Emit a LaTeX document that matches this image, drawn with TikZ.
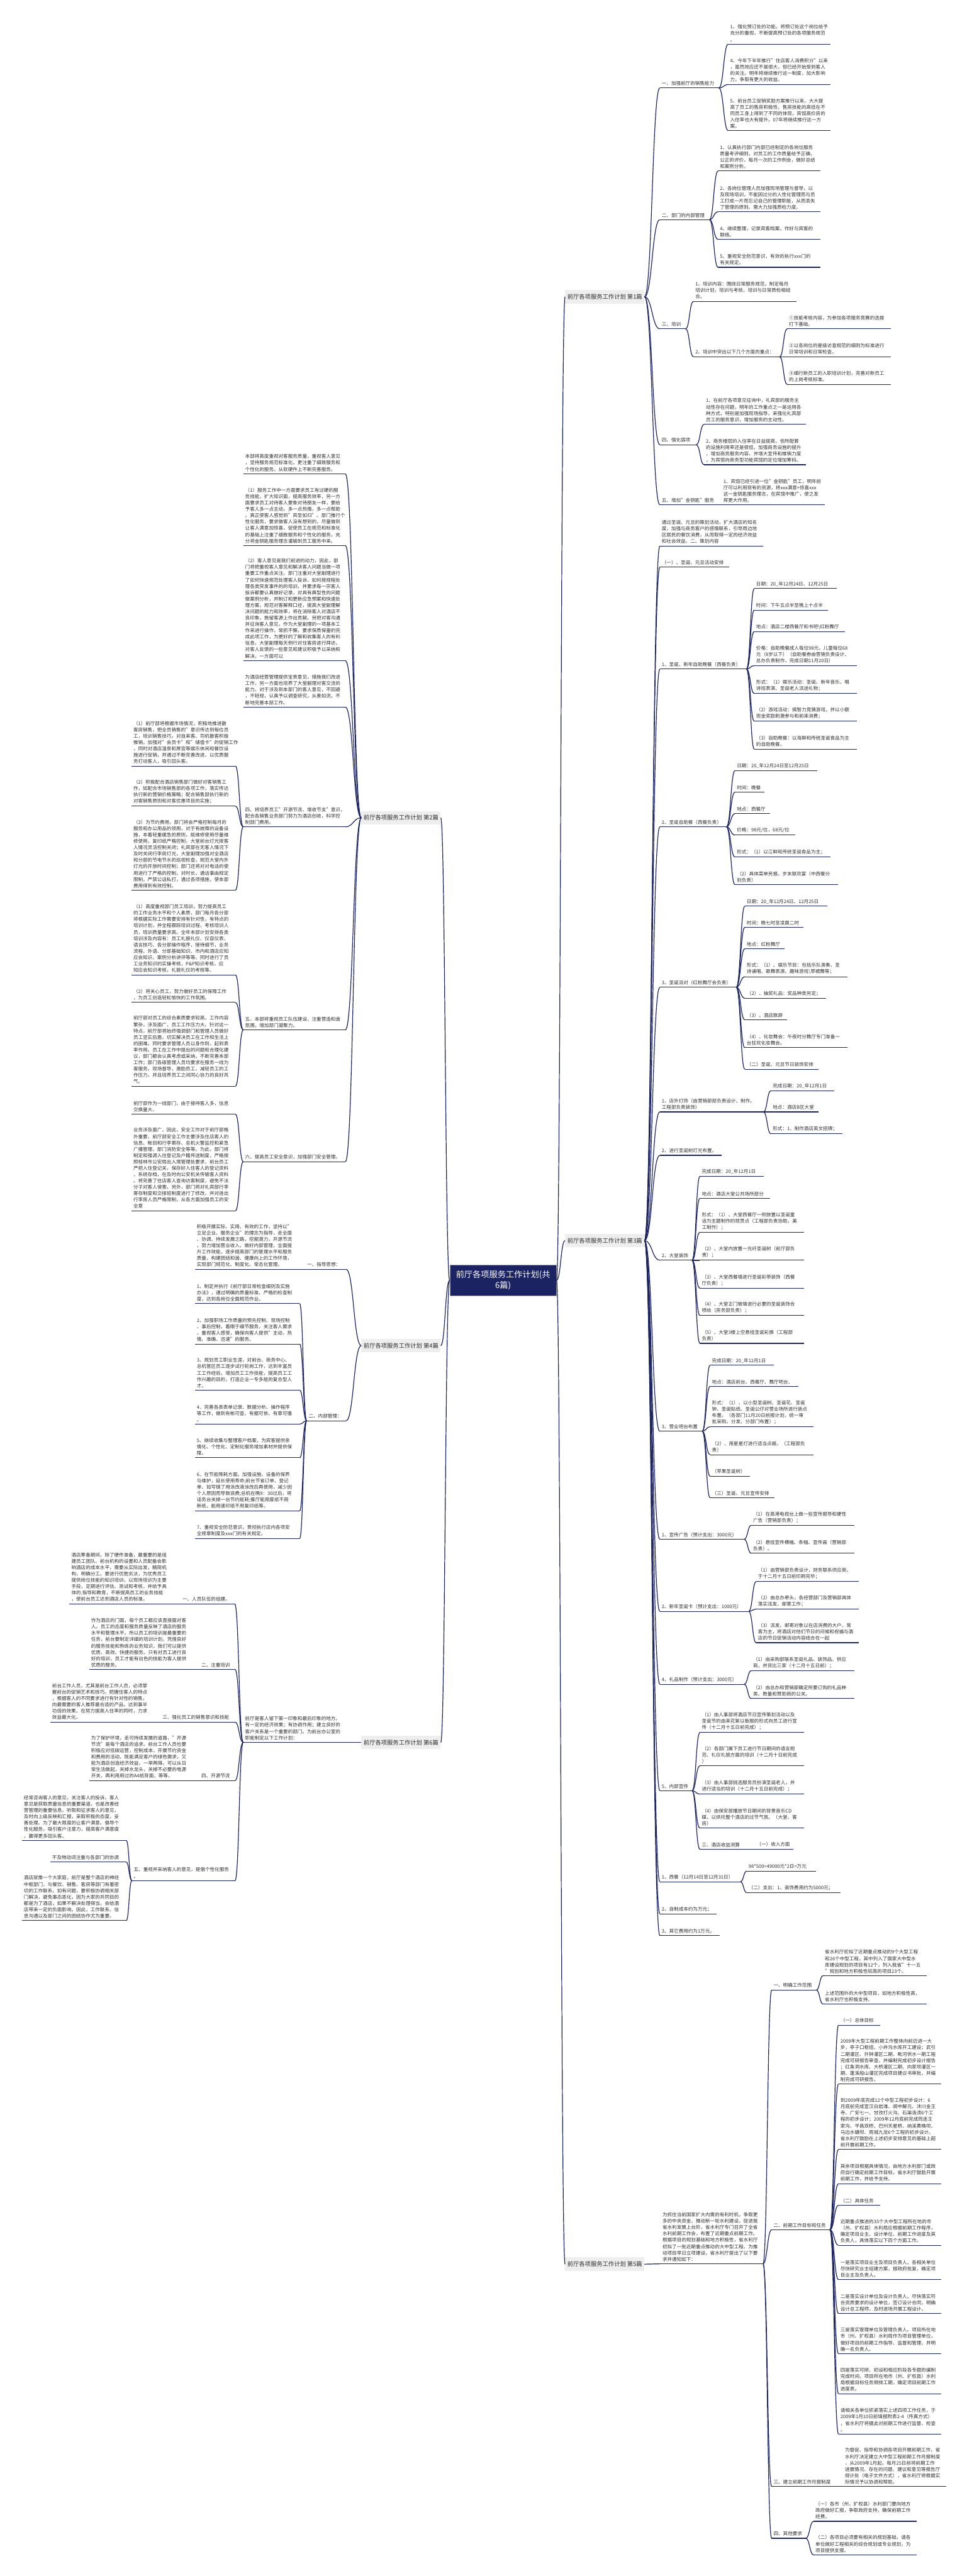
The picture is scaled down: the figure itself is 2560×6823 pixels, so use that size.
\documentclass[tikz,border=0pt]{standalone}
\usepackage{fontspec}
\setmainfont{Noto Sans CJK SC}
\usetikzlibrary{calc}
\definecolor{navy}{RGB}{30,38,98}
\definecolor{cenfill}{RGB}{27,35,99}
\definecolor{labfill}{RGB}{238,238,238}
\definecolor{txt}{RGB}{45,45,45}
\newcommand\lfs{\fontsize{12.6}{16.8}\selectfont\exhyphenpenalty=10000\hyphenpenalty=10000}
\tikzset{
 leaf/.style={anchor=south west, inner xsep=5pt, inner ysep=6pt, align=left, font=\lfs, text=txt},
 ul/.style={draw=navy, line width=1.8pt},
 cn/.style={draw=navy, line width=2pt},
 plab/.style={fill=labfill, text=txt, font=\fontsize{15.5}{18}\selectfont, inner xsep=6pt, minimum height=36pt},
 cen/.style={fill=cenfill, draw=gray!70, line width=1pt, text=white, font=\fontsize{22}{28}\selectfont, text width=256pt, align=center, inner xsep=13pt, minimum height=81pt},
}
\newcommand\mlf[5]{\pgfmathsetmacro\mytw{#3-#2-10}\node[leaf,text width=\mytw pt] (#1) at (#2,#4) {#5};\draw[ul] (#1.south west) -- (#1.south east);}
\newcommand\cnx[2]{\draw[cn] let \p1=(#1), \p2=(#2) in (\p1) .. controls ({(\x1+\x2)/2},\y1) and ({(\x1+\x2)/2},\y2) .. (\p2);}
\begin{document}
\begin{tikzpicture}[x=1pt,y=-1pt]
\fill[white] (0,0) rectangle (2560,6823);
\useasboundingbox (0,0) rectangle (2560,6823);

% ---------- root and part labels ----------
\node[cen] (root) at (1332,3391) {前厅各项服务工作计划(共\\6篇)};
\node[plab,anchor=west] (P1) at (1496,786) {前厅各项服务工作计划 第1篇};
\node[plab,anchor=west] (P3) at (1496,3286) {前厅各项服务工作计划 第3篇};
\node[plab,anchor=west] (P5) at (1496,5997) {前厅各项服务工作计划 第5篇};
\node[plab,anchor=east] (P2) at (1167,2166) {前厅各项服务工作计划 第2篇};
\node[plab,anchor=east] (P4) at (1167,3564) {前厅各项服务工作计划 第4篇};
\node[plab,anchor=east] (P6) at (1167,4615) {前厅各项服务工作计划 第6篇};

% ---------- Part 1 ----------
\mlf{A1}{1747}{1903}{233}{一、加强前厅的销售能力}
\mlf{A1a}{1928}{2198}{117}{1、强化预订处的功能。将预订处这个岗位给予\\充分的重视，不断提高预订处的各项服务规范\\。}
\mlf{A1b}{1928}{2198}{224}{4、今年下半年推行"住店客人消费积分"以来\\，虽然效应还不是很大，但已经开始受到客人\\的关注。明年将继续推行这一制度，加大影响\\力，争取有更大的收益。}
\mlf{A1c}{1928}{2198}{346}{5、前台员工促销奖励方案推行以来，大大提\\高了员工的售房积极性，售房技能的高低在不\\同员工身上得到了不同的体现，宾馆高价房的\\入住率也大有提升。07年将继续推行这一方\\案。}
\mlf{A2}{1747}{1878}{582}{二、部门的内部管理}
\mlf{A2a}{1901}{2172}{453}{1、认真执行部门内部已经制定的各岗位服务\\质量考评细则，对员工的工作质量给予正确，\\公正的评价，每月一次的工作例会，做好总结\\和案例分析。}
\mlf{A2b}{1901}{2172}{561}{2、各岗位管理人员加强现场管理与督导，以\\及现场培训，不能因过分的人性化管理而与员\\工打成一片而忘记自己的管理职能，从而丢失\\了管理的原则。需大力加强质检力度。}
\mlf{A2c}{1901}{2172}{634}{4、继续整理，记录宾客档案，作好与宾客的\\联络。}
\mlf{A2d}{1901}{2172}{708}{5、重视安全防范意识，有效的执行xxx门的\\有关规定。}
\mlf{A3}{1747}{1815}{871}{三、培训}
\mlf{A3a}{1836}{2108}{798}{1、培训内容：围绕日常服务规范，制定每月\\培训计划，培训与考核，培训与日常质检相结\\合。}
\mlf{A3b}{1836}{2064}{945}{2、培训中突出以下几个方面的重点：}
\mlf{A3b1}{2084}{2358}{871}{①技能考核内容，为参加各项服务竞赛的选拔\\打下基础。}
\mlf{A3b2}{2084}{2358}{945}{②以各岗位的星级访查规范的细则为标准进行\\日常培训和日常检查。}
\mlf{A3b3}{2084}{2358}{1018}{③细行新员工的入职培训计划，完善对新员工\\的上岗考核标准。}
\mlf{A4}{1747}{1843}{1178}{四、强化弱项}
\mlf{A4a}{1864}{2133}{1124}{1、在前厅各项意见征询中，礼宾部的服务主\\动性存在问题，明年的工作重点之一是运用各\\种方式，特别是加强现场指导，来强化礼宾部\\员工的服务意识，增加服务的主动性。}
\mlf{A4b}{1864}{2133}{1231}{2、商务楼层的入住率在日益提高，但所配套\\的设施利用率还是很低，加强商务设施的提升\\，增加商务服务内容，并增大宣传和推销力度\\，为宾馆向商务型功能宾馆的定位增加筹码。}
\mlf{A5}{1747}{1900}{1337}{五、增加"金钥匙"服务}
\mlf{A5a}{1910}{2183}{1337}{1、宾馆已经引进一位"金钥匙"员工，明年前\\厅可以利用现有的资源，将xxx满意+惊喜xxx\\这一金钥匙服务理念，在宾馆中推广，使之发\\挥更大作用。}

% ---------- Part 3 ----------
\mlf{B1}{1747}{2020}{1446}{通过圣诞、元旦的策划活动，扩大酒店的知名\\度，加强与商务客户的感情联系，引导周边地\\区居民的餐饮消费，从而取得一定的经济效益\\和社会效益。二、策划内容}
\mlf{B2}{1747}{1930}{1502}{（一）、圣诞、元旦活动安排}
\mlf{B3}{1747}{1976}{1772}{1、圣诞、新年自助晚餐（西餐负责）}
\mlf{B3a}{1997}{2215}{1559}{日期：20\_年12月24日、12月25日}
\mlf{B3b}{1997}{2192}{1616}{时间：下午五点半至晚上十点半}
\mlf{B3c}{1997}{2236}{1673}{地点：酒店二楼西餐厅和书吧\textbackslash{}红粉舞厅}
\mlf{B3d}{1997}{2269}{1763}{价格：自助晚餐成人每位98元，儿童每位68\\元（8岁以下）（自助餐券由营销负责设计、\\总办负责制作，完成日期11月20日）}
\mlf{B3e}{1997}{2269}{1837}{形式：（1）娱乐活动：圣诞、新年音乐、唱\\诗班表演、圣诞老人派送礼物；}
\mlf{B3f}{1997}{2269}{1910}{（2）游戏活动：搞智力竞猜游戏，并以小额\\现金奖励刺激参与和前来消费；}
\mlf{B3g}{1997}{2269}{1984}{（3）自助晚餐：以海鲜和传统圣诞食品为主\\的自助晚餐。}
\mlf{B4}{1747}{1923}{2190}{2、圣诞自助餐（西餐负责）}
\mlf{B4a}{1946}{2164}{2041}{日期：20\_年12月24日至12月25日}
\mlf{B4b}{1946}{2023}{2098}{时间：晚餐}
\mlf{B4c}{1946}{2038}{2155}{地点：西餐厅}
\mlf{B4d}{1946}{2105}{2212}{价格：98元/位，68元/位}
\mlf{B4e}{1946}{2199}{2270}{形式：（1）以江鲜和传统圣诞食品为主；}
\mlf{B4f}{1946}{2218}{2343}{（2）具体菜单另报。岁末联欢宴（中西餐分\\别负责）}
\mlf{B5}{1747}{1949}{2615}{3、圣诞派对（红粉舞厅会负责）}
\mlf{B5a}{1972}{2190}{2400}{日期：20\_年12月24日、12月25日}
\mlf{B5b}{1972}{2127}{2456}{时间：晚七时至凌晨二时}
\mlf{B5c}{1972}{2077}{2513}{地点：红粉舞厅}
\mlf{B5d}{1972}{2244}{2587}{形式：（1）、娱乐节目：包括乐队演奏、圣\\诗诵唱、歌舞表演、趣味游戏\textbackslash{}草裙舞等；}
\mlf{B5e}{1972}{2186}{2644}{（2）、抽奖礼品：奖品种类另定；}
\mlf{B5f}{1972}{2084}{2701}{（3）、酒店致辞}
\mlf{B5g}{1972}{2244}{2775}{（4）、化妆舞会：午夜时分舞厅专门准备一\\台狂欢化妆舞会。}
\mlf{B5h}{1972}{2166}{2832}{（二）圣诞、元旦节日装饰安排}
\mlf{B6}{1747}{2021}{2945}{1、店外灯饰（由营销部部负责设计、制作。\\工程部负责装饰）}
\mlf{B6a}{2041}{2209}{2889}{完成日期：20\_年12月1日}
\mlf{B6b}{2041}{2166}{2945}{地点：酒店B区大堂}
\mlf{B6c}{2041}{2230}{3003}{形式：1、制作酒店英文招牌；}
\mlf{B7}{1747}{1910}{3060}{2、进行圣诞树灯光布置。}
\mlf{B8}{1747}{1832}{3338}{2、大堂装饰}
\mlf{B8a}{1853}{2022}{3116}{完成日期：20\_年12月1日}
\mlf{B8b}{1853}{2038}{3174}{地点：酒店大堂公共场所部分}
\mlf{B8c}{1853}{2128}{3264}{形式：（1）、大堂西餐厅一侧放置以圣诞童\\话为主题制作的观赏点（工程部负责协助，美\\工制作）；}
\mlf{B8d}{1853}{2128}{3338}{（2）、大堂内放置一光纤圣诞树（前厅部负\\责）；}
\mlf{B8e}{1853}{2128}{3412}{（3）、大堂西餐墙进行圣诞彩带装饰（西餐\\厅负责）；}
\mlf{B8f}{1853}{2128}{3484}{（4）、大堂正门玻璃进行必要的圣诞装饰合\\喷绘（房务部负责）；}
\mlf{B8g}{1853}{2128}{3558}{（5）、大堂3楼上空悬挂圣诞彩旗（工程部\\负责）}
\mlf{B9}{1747}{1859}{3791}{3、营业吧台布置}
\mlf{B9a}{1880}{2048}{3616}{完成日期：20\_年12月1日}
\mlf{B9b}{1880}{2114}{3672}{地点：酒店前台、西餐厅、舞厅吧台、}
\mlf{B9c}{1880}{2153}{3779}{形式：（1）、以小型圣诞树、圣诞花、圣诞\\钟、圣诞贴纸、圣诞公仔对营业场所进行装点\\布置。（各部门11月20日前报计划，统一审\\批采购，分发、分部门布置）；}
\mlf{B9d}{1880}{2153}{3853}{（2）、用星星灯进行适当点缀。（工程部负\\责）}
\mlf{B9e}{1880}{1986}{3910}{（苹果圣诞树）}
\mlf{B9f}{1880}{2050}{3967}{（三）圣诞、元旦宣传安排}
\mlf{B10}{1747}{1970}{4077}{1、宣传广告（预计支出：3000元）}
\mlf{B10a}{1989}{2261}{4040}{（1）在高港电视台上做一些宣传报导和硬性\\广告（营销部负责）；}
\mlf{B10b}{1989}{2261}{4114}{（2）悬挂宣传横幅、条幅、宣传画（营销部\\负责）。}
\mlf{B11}{1747}{1982}{4268}{2、新年圣诞卡（预计支出：1000元）}
\mlf{B11a}{2002}{2273}{4189}{（1）由营销部负责设计，财务联系供应商，\\于十二月十五日前印刷完毕；}
\mlf{B11b}{2002}{2273}{4262}{（2）由总办牵头，各经营部门及营销部具体\\落实派发、邮寄工作；}
\mlf{B11c}{2002}{2273}{4351}{（3）派发、邮寄对象以在店消费的大户、常\\客为主，将酒店对他们节日的问候和祝福与酒\\店的节日促销活动内容结合在一起}
\mlf{B12}{1747}{1970}{4461}{4、礼品制作（预计支出：3000元）}
\mlf{B12a}{1989}{2261}{4425}{（1）由采购部联系圣诞礼品、装饰品、供应\\商，并货比三家（十二月十五日前）；}
\mlf{B12b}{1989}{2261}{4499}{（2）由总办和营销部确定所要订购的礼品种\\类、数量和赞助商的公关。}
\mlf{B13}{1747}{1832}{4743}{5、内部宣传}
\mlf{B13a}{1853}{2128}{4589}{（1）由人事部将酒店节日宣传策划活动以及\\圣诞节的由来花絮以板报的形式向员工进行宣\\传（十二月十五日前完成）；}
\mlf{B13b}{1853}{2128}{4677}{（2）各部门属下员工进行节日期间的语言规\\范、礼仪礼貌方面的培训（十二月十日前完成\\）}
\mlf{B13c}{1853}{2128}{4752}{（3）由人事部挑选服务员扮演圣诞老人，并\\进行适当的培训（十二月十五日前完成）；}
\mlf{B13d}{1853}{2128}{4842}{（4）由保安部播放节日期间的背景音乐CD\\碟，以烘托整个酒店的过节气氛。（大堂、客\\房）}
\mlf{B13e}{1853}{1985}{4898}{三、酒店收益测算}
\mlf{B13f}{1998}{2100}{4898}{（一）收入方面}
\mlf{B14}{1747}{1960}{4984}{1、西餐（12月14日至12月31日）}
\mlf{B14a}{1977}{2160}{4956}{98*500=49000元*2日=万元}
\mlf{B14b}{1977}{2225}{5013}{（二）支出：1、装饰费用约为5000元；}
\mlf{B15}{1747}{1897}{5069}{2、自制成本约为万元；}
\mlf{B16}{1747}{1905}{5127}{3、其它费用约为1万元。}

% ---------- Part 5 ----------
\mlf{C0}{1749}{2020}{5996}{为抓住当前国家扩大内需的有利时机，争取更\\多的中央资金，推动新一轮水利建设，促进我\\省水利发展上台阶，省水利厅专门召开了全省\\水利前期工作会，布置了近期重点前期工作。\\根据项目的规划基础和地方积极性，省水利厅\\初拟了一批近期重点推动的大中型工程。为推\\动项目早日立项建设，省水利厅提出了以下要\\求并通知如下：}
\mlf{C1}{2043}{2161}{5271}{一、明确工作范围}
\mlf{C1a}{2179}{2454}{5233}{省水利厅初拟了近期重点推动的9个大型工程\\和26个中型工程，其中列入了国家大中型水\\库建设规划的项目有12个，列入我省"十一五\\"规划和地方积极性较高的项目23个。}
\mlf{C1b}{2179}{2454}{5308}{上述范围外的大中型项目，如地方积极性高，\\省水利厅也积极支持。}
\mlf{C2}{2043}{2197}{5906}{二、前期工作目标和任务}
\mlf{C2a}{2220}{2330}{5364}{（一）总体目标}
\mlf{C2b}{2220}{2492}{5520}{2009年大型工程前期工作整体向前迈进一大\\步，亭子口枢纽、小井沟水库开工建设；武引\\二期灌区、升钟灌区二期、毗河供水一期工程\\完成可研报告审查，并编制完成初步设计报告\\；红鱼洞水库、大桥灌区二期、向家坝灌区一\\期、蓬溪船山灌区完成项目建议书审批，并编\\制完成可研报告。}
\mlf{C2c}{2220}{2492}{5693}{到2009年底完成12个中型工程初步设计：6\\月底前完成宣汉白岩滩、阆中解元、沐川金王\\寺、广安七一、甘孜打火沟、石渠洛须6个工\\程的初步设计；2009年12月底前完成筠连王\\家沟、平昌双桥、巴州天星桥、纳溪黄桷坝、\\马边水碾坝、雨城九龙6个工程的初步设计。\\省水利厅鼓励在上述初步安排意见的基础上超\\前开展前期工作。}
\mlf{C2d}{2220}{2492}{5784}{其余项目根据具体情况，由地方水利部门或政\\府自行确定前期工作目标，省水利厅鼓励开展\\前期工作，并给予支持。}
\mlf{C2e}{2220}{2330}{5841}{（二）具体任务}
\mlf{C2f}{2220}{2492}{5947}{近期重点推进的35个大中型工程所在地的市\\（州、扩权县）水利局应根据前期工作程序，\\确定项目业主、设计单位、前期工作进度及其\\负责人，具体落实以下四个方面工作。}
\mlf{C2g}{2220}{2492}{6038}{一是落实项目业主及项目负责人。各相关单位\\尽快研究业主组建方案，报政府批复，确定项\\目业主及负责人。}
\mlf{C2h}{2220}{2492}{6128}{二是落实设计单位及设计负责人。尽快落实符\\合资质要求的设计单位，签订设计合同，明确\\设计总工程师，及时进场开展工程设计。}
\mlf{C2i}{2220}{2492}{6234}{三是落实管理单位及管理负责人。项目所在地\\市（州、扩权县）水利局作为项目管理单位，\\做好项目的前期工作指导、监督和管理，并明\\确一名负责人。}
\mlf{C2j}{2220}{2492}{6340}{四是落实可研、初设和相应阶段各专题的编制\\完成时间。项目所在地市（州、扩权县）水利\\局根据目标任务倒排工期，确定项目前期工作\\进度表。}
\mlf{C2k}{2220}{2492}{6447}{请相关各单位抓紧落实上述四项工作任务，于\\2009年1月10日前填报附表2-4（传真方式）\\，省水利厅将据此对前期工作进行监督、检查\\。}
\mlf{C3}{2043}{2215}{6586}{三、建立前期工作月报制度}
\mlf{C3a}{2232}{2505}{6586}{为督促、指导和协调各项目开展前期工作，省\\水利厅决定建立大中型工程前期工作月报制度\\，从2009年1月起，每月25日前将前期工作\\进展情况、存在的问题、建议和意见等报告厅\\规计处（电子文件方式），省水利厅将根据实\\际情况予以协调和帮助。}
\mlf{C4}{2043}{2133}{6723}{四、其他要求}
\mlf{C4a}{2154}{2427}{6678}{（一）各市（州，扩权县）水利部门要向地方\\政府做好汇报，争取政府支持，确保前期工作\\经费。}
\mlf{C4b}{2154}{2427}{6767}{（二）各项目必须要有相关的规划基础，请各\\单位做好工程相关的综合规划或专业规划，为\\项目提供支撑。}

% ---------- Part 2 ----------
\mlf{D1}{644}{914}{1255}{本部将高度重视对客服务质量，重视客人意见\\，坚持服务规范标准化，更注重了细致服务和\\个性化的服务。从软硬件上不断完善服务。}
\mlf{D2}{644}{914}{1445}{（1）服务工作中一方面要求员工有过硬的服\\务技能，扩大知识面，提高服务效率，另一方\\面要求员工对待客人要象对待朋友一样，要给\\予客人多一点主动，多一点热情，多一点帮助\\。真正使客人感觉到"宾至如归"。部门推行个\\性化服务，要求做客人没有想到的，尽量做到\\让客人满意加惊喜，促使员工在规范和标准化\\的基础上注重了细致服务和个性化的服务，充\\分将金钥匙服务理念灌输到员工服务中来。}
\mlf{D3}{644}{914}{1750}{（2）客人意见是我们前进的动力，因此，部\\门将把重视客人意见和解决客人问题当做一项\\重要工作重点关注。部门注重对大堂副理进行\\了如何快速规范处理客人投诉、如何按规程处\\理各类突发事件的的培训，并要求每一宗客人\\投诉都要认真做好记录，对具有典型性的问题\\做案例分析，并制订和更新应急预案和快速处\\理方案，规范对客解释口径，提高大堂副理解\\决问题的能力和效率，将在消除客人对酒店不\\良印象，挽留客源上作出贡献。另把对客沟通\\并征询客人意见，作为大堂副理的一项基本工\\作来进行操作，常抓不懈，要求保质保量的完\\成此项工作，为更好的了解和收集客人的有利\\信息。大堂副理每天例行对住客房进行拜访，\\对客人反馈的一些意见和建议积极予以采纳和\\解决，一方面可以}
\mlf{D4}{644}{914}{1873}{为酒店经营管理提供宝贵意见，措施我们改进\\工作，另一方面也培养了大堂副理对客交流的\\能力。对于涉及到本部门的客人意见，不回避\\，不轻视，认真予以调查研究，从善如流，不\\断地完善本部工作。}
\mlf{D5}{644}{914}{2190}{四、将培养员工"开源节流、增收节支"意识，\\配合各销售业务部门努力为酒店创收，科学控\\制部门费用。}
\mlf{D5a}{348}{623}{2029}{（1）前厅部将根据市场情况，积极地推进散\\客房销售，把全员销售的"意识传达到每位员\\工，培训销售技巧，对自来客、司机散客积极\\推销，加强对"会员卡"和"储值卡"的促销工作\\，同时对酒店温泉和厚宫等娱乐休闲和餐饮设\\施进行促销，并通过不断完善改进，以优质服\\务打动客人，吸引回头客。}
\mlf{D5b}{348}{623}{2135}{（2）积极配合酒店销售部门做好对客销售工\\作，如配合市场销售部的各项工作，落实传达\\执行新的营销价格策略；配合销售部执行新的\\对客销售原则和对客优惠项目的实施；}
\mlf{D5c}{348}{623}{2358}{（3）为节约费用，部门将会严格控制每月的\\服务和办公用品的领用，对于有故障的设备设\\施，本着轻重缓急的原则，能维修使用尽量维\\修使用，复印纸严格控制，大堂前台灯光按客\\人情况灵活控制关闭；礼宾部在无客人情况下\\及时关闭行李房灯光，大堂副理加强对全酒店\\和分部的节电节水的巡视检查，规范大堂内外\\灯光的开放时间控制；部门还将对对电话的使\\用进行了严格的控制，对时长，通话事由规定\\限制，严禁公话私打，通过各项措施，使本部\\费用得到有效控制。}
\mlf{D6}{644}{914}{2728}{五、本部将重视员工队伍建设，注重营造和谐\\氛围，增加部门凝聚力。}
\mlf{D6a}{348}{623}{2582}{（1）高度重视部门员工培训，努力提高员工\\的工作业务水平和个人素质，部门每月各分部\\将根据实际工作需要安排有针对性，有特点的\\培训计划，并全程跟踪培训过程，考核培训人\\员，培训质量要求高。全年本部计划安排各类\\培训涉及内容有：员工礼貌礼仪、仪容仪表、\\语言技巧、各分部操作程序，接待细节，业务\\流程、外语、分部基础知识、市内和酒店应知\\应会知识、案例分析讲评等等。同时进行了员\\工业务知识的实操考核，P\&P知识考核，应\\知应会知识考核，礼貌礼仪的考核等。}
\mlf{D6b}{348}{623}{2655}{（2）将关心员工，努力做好员工的保障工作\\，为员工创造轻松愉快的工作氛围。}
\mlf{D6c}{348}{623}{2877}{前厅部对员工的综合素质要求较高，工作内容\\繁杂，涉及面广，员工工作压力大。针对这一\\特点，前厅部将始终强调部门和管理人员做好\\员工坚实后盾，切实解决员工在工作和生活上\\的困难。同时要求管理人员以身作则，起到表\\率作用。员工在工作中提出的问题和合理化建\\议，部门都会认真考虑或采纳，不断完善本部\\工作；部门各级管理人员均要求在服务一线为\\客服务，现场督导，激励员工，减轻员工的工\\作压力，并且培养员工之间同心协力的良好风\\气。}
\mlf{D7}{644}{914}{3077}{六、提高员工安全意识，加强部门安全管理。}
\mlf{D7a}{348}{623}{2951}{前厅部作为一线部门，由于接待客人多，信息\\交换量大、}
\mlf{D7b}{348}{623}{3207}{业务涉及面广，因此，安全工作对于前厅部格\\外重要，前厅部安全工作主要涉及住店客人的\\信息、帐目和行李寄存、总机火警监控和紧急\\广播管理、部门消防安全等等。为此，部门将\\制定和强调入住登记及户籍传送制度，严格按\\照桂林市公安局出入境管理处要求，前台员工\\严把入住登记关，保存好入住客人的登记资料\\，系统存档，在及时向公安机关传输客人资料\\。将完善了住店客人查询访客制度，避免不法\\分子对客人侵害。另外，部门将对礼宾部行李\\寄存制度和交接班制度进行了修改，并对进出\\行李房人员严格限制，从各方面加强员工的安\\全意}

% ---------- Part 4 ----------
\mlf{E1}{808}{916}{3362}{一、指导思想：}
\mlf{E0}{516}{795}{3362}{积极开展实际、实用、有效的工作，坚持以"\\立足企业、服务企业"的理念为指导，走全面\\、协调、持续发展之路，挖掘潜力，开源节流\\，努力增加营业收入，做好内部管理，全面提\\升工作效能，逐步提高部门的管理水平和服务\\质量，构建团结和谐、健康向上的工作环境，\\实现部门规范化、制度化、常态化管理。}
\mlf{E2}{812}{916}{3763}{二、内部管理：}
\mlf{E2a}{516}{793}{3453}{1、制定并执行《前厅部日常检查细则及实施\\办法》，通过明确的质量标准、严格的检查制\\度，达到各岗位全面规范作业。}
\mlf{E2b}{516}{793}{3560}{2、加强职场工作质量的预先控制、现场控制\\、事后控制，着眼于细节服务，关注客人需求\\，重视客人感受，确保向客人提供"主动、热\\情、准确、迅速"的服务。}
\mlf{E2c}{516}{793}{3682}{3、规划员工职业生涯，对前台、商务中心、\\总机管区员工逐步试行轮岗工作，达到丰富员\\工工作经验，增加员工工作技能，提高员工工\\作兴趣的目的，打造企业一专多能的复合型人\\才。}
\mlf{E2d}{516}{793}{3772}{4、完善各类表单记录、数据分析、操作程序\\等工作，做到有帐可查、有据可依、有章可循\\。}
\mlf{E2e}{516}{793}{3861}{5、继续收集与整理客户档案，为宾客提供亲\\情化、个性化、定制化服务增加素材并提供保\\障。}
\mlf{E2f}{516}{793}{4002}{6、在节能降耗方面。加强设施、设备的保养\\与维护，延长使用寿命;前台节省订单、登记\\单、如写错了用涂改液涂改后再使用，减少因\\个人原因而导致浪费;总机在晚9：30过后，将\\话务台关掉一台节约能耗;餐厅能用废纸不用\\新纸，能用速印纸不用复印纸等。}
\mlf{E2g}{516}{793}{4075}{7、重视安全防范意识，贯彻执行店内各项安\\全规章制度及xxx门的有关规定。}

% ---------- Part 6 ----------
\mlf{F0}{644}{916}{4615}{前厅是客人留下第一印象和最后印象的地方。\\有一定的经济效果；有协调作用；建立良好的\\客户关系是一个重要的部门。为前台办公室的\\职能制定以下工作计划：}
\mlf{F1}{478}{621}{4248}{一、人员队伍的组建。}
\mlf{F1a}{184}{460}{4248}{酒店筹备期间，除了硬件准备，最重要的是组\\建员工团队。前台机构的设置和人员配备会影\\响酒店的成本水平，需要从实际出发，精简机\\构，明确分工。要进行优胜劣汰，为优秀员工\\提供岗位技能的知识培训，以现场培训为主要\\手段，定期进行评估、测试和考核，并给予具\\体的.指导和教育，不断提高员工的业务技能\\，使前台员工达到酒店人员的标准。}
\mlf{F2}{528}{622}{4422}{二、注重培训}
\mlf{F2a}{236}{512}{4422}{作为酒店的门面，每个员工都应该直接面对客\\人。员工的态度和服务质量反映了酒店的服务\\水平和管理水平。所以员工的培训是最重要的\\任务，前台要制定详细的培训计划。凭借良好\\的服务技能和熟练的业务知识，我们可以提供\\优质、高效、快捷的服务。只有对员工进行良\\好的培训，员工才能有出色的技能为客人提供\\优质的服务。}
\mlf{F3}{425}{622}{4561}{三、强化员工的销售意识和技能}
\mlf{F3a}{133}{409}{4561}{前台工作人员，尤其是前台工作人员，必须掌\\握前台的促销艺术和技巧。把握住客人的特点\\，根据客人的不同要求进行有针对性的销售，\\向最需要的客人推荐最合适的产品，达到事半\\功倍的效果。在努力提高入住率的同时，力求\\效益最大化。}
\mlf{F4}{528}{622}{4716}{四、开源节流}
\mlf{F4a}{236}{512}{4716}{为了保护环境，走可持续发展的道路，"开源\\节流"是每个酒店的追求。前台工作人员也要\\积极应对低碳运营，控制成本，开展节约资金\\和费用的活动，既能满足客户的绿色需求，又\\能为酒店创造经济效益，一举两得。可以从日\\常生活做起，关掉水龙头，关掉不必要的电源\\开关，再利用用过的A4纸背面，等等。}
\mlf{F5}{349}{622}{4981}{五、重视并采纳客人的意见，提倡个性化服务\\。}
\mlf{F5a}{58}{334}{4875}{经常咨询客人的意见，关注客人的投诉。客人\\意见是获取质量信息的重要渠道，也是改善经\\营管理的重要信息。听取和征求客人的意见，\\及时向上级反映和汇报，采取积极的态度，妥\\善处理。为了最大限度的让客户满意。倡导个\\性化服务，吸引客户注意力，提高客户满意度\\，赢得更多回头客。}
\mlf{F5b}{133}{334}{4932}{不及物动词注重与各部门的协调}
\mlf{F5c}{58}{334}{5087}{酒店就像一个大家庭，前厅是整个酒店的神经\\中枢部门，与餐饮、销售、客房等部门有着密\\切的工作联系。如有问题，要积极协调相关部\\门解决，避免事态恶化，因为大家的共同目的\\都是为了酒店，如果不解决处理得当，会给酒\\店带来一定的负面影响。因此，工作联系、信\\息沟通以及部门之间的团结协作尤为重要。}

% ---------- connectors ----------
\cnx{root.east}{P1.west}
\cnx{root.east}{P3.west}
\cnx{root.east}{P5.west}
\cnx{root.west}{P2.east}
\cnx{root.west}{P4.east}
\cnx{root.west}{P6.east}
% part 1
\foreach \nn in {A1,A2,A3,A4,A5} {\cnx{P1.east}{\nn.south west}}
\foreach \nn in {A1a,A1b,A1c} {\cnx{A1.south east}{\nn.south west}}
\foreach \nn in {A2a,A2b,A2c,A2d} {\cnx{A2.south east}{\nn.south west}}
\foreach \nn in {A3a,A3b} {\cnx{A3.south east}{\nn.south west}}
\foreach \nn in {A3b1,A3b2,A3b3} {\cnx{A3b.south east}{\nn.south west}}
\foreach \nn in {A4a,A4b} {\cnx{A4.south east}{\nn.south west}}
\cnx{A5.south east}{A5a.south west}
% part 3
\foreach \nn in {B1,B2,B3,B4,B5,B6,B7,B8,B9,B10,B11,B12,B13,B14,B15,B16} {\cnx{P3.east}{\nn.south west}}
\foreach \nn in {B3a,B3b,B3c,B3d,B3e,B3f,B3g} {\cnx{B3.south east}{\nn.south west}}
\foreach \nn in {B4a,B4b,B4c,B4d,B4e,B4f} {\cnx{B4.south east}{\nn.south west}}
\foreach \nn in {B5a,B5b,B5c,B5d,B5e,B5f,B5g,B5h} {\cnx{B5.south east}{\nn.south west}}
\foreach \nn in {B6a,B6b,B6c} {\cnx{B6.south east}{\nn.south west}}
\foreach \nn in {B8a,B8b,B8c,B8d,B8e,B8f,B8g} {\cnx{B8.south east}{\nn.south west}}
\foreach \nn in {B9a,B9b,B9c,B9d,B9e,B9f} {\cnx{B9.south east}{\nn.south west}}
\foreach \nn in {B10a,B10b} {\cnx{B10.south east}{\nn.south west}}
\foreach \nn in {B11a,B11b,B11c} {\cnx{B11.south east}{\nn.south west}}
\foreach \nn in {B12a,B12b} {\cnx{B12.south east}{\nn.south west}}
\foreach \nn in {B13a,B13b,B13c,B13d,B13e} {\cnx{B13.south east}{\nn.south west}}
\cnx{B13e.south east}{B13f.south west}
\foreach \nn in {B14a,B14b} {\cnx{B14.south east}{\nn.south west}}
% part 5
\cnx{P5.east}{C0.south west}
\foreach \nn in {C1,C2,C3,C4} {\cnx{C0.south east}{\nn.south west}}
\foreach \nn in {C1a,C1b} {\cnx{C1.south east}{\nn.south west}}
\foreach \nn in {C2a,C2b,C2c,C2d,C2e,C2f,C2g,C2h,C2i,C2j,C2k} {\cnx{C2.south east}{\nn.south west}}
\cnx{C3.south east}{C3a.south west}
\foreach \nn in {C4a,C4b} {\cnx{C4.south east}{\nn.south west}}
% part 2
\foreach \nn in {D1,D2,D3,D4,D5,D6,D7} {\cnx{P2.west}{\nn.south east}}
\foreach \nn in {D5a,D5b,D5c} {\cnx{D5.south west}{\nn.south east}}
\foreach \nn in {D6a,D6b,D6c} {\cnx{D6.south west}{\nn.south east}}
\foreach \nn in {D7a,D7b} {\cnx{D7.south west}{\nn.south east}}
% part 4
\foreach \nn in {E1,E2} {\cnx{P4.west}{\nn.south east}}
\cnx{E1.south west}{E0.south east}
\foreach \nn in {E2a,E2b,E2c,E2d,E2e,E2f,E2g} {\cnx{E2.south west}{\nn.south east}}
% part 6
\cnx{P6.west}{F0.south east}
\foreach \nn in {F1,F2,F3,F4,F5} {\cnx{F0.south west}{\nn.south east}}
\cnx{F1.south west}{F1a.south east}
\cnx{F2.south west}{F2a.south east}
\cnx{F3.south west}{F3a.south east}
\cnx{F4.south west}{F4a.south east}
\foreach \nn in {F5a,F5b,F5c} {\cnx{F5.south west}{\nn.south east}}
\end{tikzpicture}
\end{document}
